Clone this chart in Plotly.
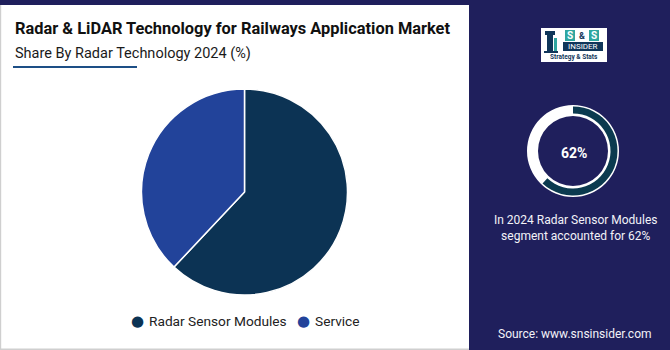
import plotly.graph_objects as go

W, H = 670, 350

# ---- data ----
categories = ["Radar Sensor Modules", "Service"]
shares = [62, 38]
colors = ["#0c3354", "#22439a"]
highlight_value = 62
title = "Radar & LiDAR Technology for Railways Application Market"
subtitle = "Share By Radar Technology 2024 (%)"
note_lines = ["In 2024 Radar Sensor Modules", "segment accounted for 62%"]
source = "Source: www.snsinsider.com"

BG = "#1f1f5c"


def px(x):
    return x / W


def py(y):
    return 1 - y / H


def rect(x0, y0, x1, y1, color, line=None):
    return dict(type="rect", xref="paper", yref="paper",
                x0=px(x0), x1=px(x1), y0=py(y1), y1=py(y0),
                fillcolor=color, line=dict(width=0) if line is None else line,
                layer="below")


fig = go.Figure()

# main pie
fig.add_trace(go.Pie(
    labels=categories, values=shares, sort=False, direction="clockwise",
    rotation=0, marker=dict(colors=colors, line=dict(color="#ffffff", width=1.5)),
    textinfo="none", hoverinfo="label+percent", showlegend=False,
    domain=dict(x=[px(141.5), px(347.5)], y=[py(295), py(89)]),
))

# right donut: white base ring
fig.add_trace(go.Pie(
    values=[100], sort=False, hole=35 / 46,
    marker=dict(colors=["#ffffff"], line=dict(width=0)),
    textinfo="none", hoverinfo="skip", showlegend=False,
    domain=dict(x=[px(527), px(619)], y=[py(197), py(105)]),
))
# dark arc for highlighted share
fig.add_trace(go.Pie(
    values=[highlight_value, 100 - highlight_value], sort=False,
    direction="clockwise", rotation=0, hole=37.5 / 44.5,
    marker=dict(colors=["#0b3a4f", "rgba(0,0,0,0)"], line=dict(width=0)),
    textinfo="none", hoverinfo="skip", showlegend=False,
    domain=dict(x=[px(528.5), px(617.5)], y=[py(195.5), py(106.5)]),
))

shapes = [
    rect(0, 5, 469, 350, "#cfcfcf"),
    rect(1.2, 5, 469, 348.6, "#ffffff"),
    dict(type="line", xref="paper", yref="paper", x0=px(13), x1=px(137),
         y0=py(67), y1=py(67), line=dict(color="#1d4f86", width=2)),
    # logo
    rect(541, 28, 607, 62, "#ffffff"),
    rect(565, 30, 575, 41, "#2fa6a0"),
    rect(589, 30, 599, 41, "#2fa6a0"),
    rect(563, 42, 603, 51, "#10365a"),
    rect(547, 34, 553, 52, "#10365a"),
    rect(545, 31, 555, 35, "#10365a"),
    rect(554, 38, 557, 52, "#2fa6a0"),
    rect(544, 51, 558, 53, "#10365a"),
]

annotations = [
    dict(text=f"<b>{title}</b>", x=px(13), y=py(29), xanchor="left", yanchor="middle",
         font=dict(family="Roboto", size=16.4, color="#111111")),
    dict(text=subtitle, x=px(12.5), y=py(53), xanchor="left", yanchor="middle",
         font=dict(family="Roboto", size=14.5, color="#1a1a1a")),
    dict(text=f"<b>{highlight_value}%</b>", x=px(574), y=py(153), xanchor="center", yanchor="middle",
         font=dict(family="Roboto", size=14, color="#ffffff")),
    dict(text="<br>".join(note_lines), x=px(575), y=py(228), xanchor="center", yanchor="middle",
         font=dict(family="Roboto", size=12, color="#f2f2f8")),
    dict(text=source, x=px(575), y=py(334), xanchor="center", yanchor="middle",
         font=dict(family="Roboto", size=12, color="#f2f2f8")),
    # logo texts
    dict(text="<b>S</b>", x=px(570), y=py(35.5), xanchor="center", yanchor="middle",
         font=dict(family="Roboto", size=10, color="#ffffff")),
    dict(text="<b>&</b>", x=px(582), y=py(35.5), xanchor="center", yanchor="middle",
         font=dict(family="Roboto", size=9, color="#10365a")),
    dict(text="<b>S</b>", x=px(594), y=py(35.5), xanchor="center", yanchor="middle",
         font=dict(family="Roboto", size=10, color="#ffffff")),
    dict(text="INSIDER", x=px(583), y=py(46.5), xanchor="center", yanchor="middle",
         font=dict(family="Roboto", size=8, color="#ffffff")),
    dict(text="<b>Strategy & Stats</b>", x=px(574), y=py(57), xanchor="center", yanchor="middle",
         font=dict(family="Roboto", size=6.5, color="#10365a")),
]

# legend as annotations built from data
leg_dot_x = [137, 303]
for name, col, lx in zip(categories, colors, leg_dot_x):
    annotations.append(dict(
        text="●", x=px(lx), y=py(320.5), xanchor="center", yanchor="middle",
        font=dict(family="DejaVu Sans", size=15, color=col)))
    annotations.append(dict(
        text=name, x=px(lx + 10), y=py(321), xanchor="left", yanchor="middle",
        font=dict(family="Roboto", size=13.7, color="#222222")))

for a in annotations:
    a.setdefault("xref", "paper")
    a.setdefault("yref", "paper")
    a.setdefault("showarrow", False)

fig.update_layout(
    width=W, height=H, margin=dict(l=0, r=0, t=0, b=0),
    paper_bgcolor=BG, plot_bgcolor=BG,
    shapes=shapes, annotations=annotations, showlegend=False,
)

fig.write_html("out.html", config={"displayModeBar": False})
